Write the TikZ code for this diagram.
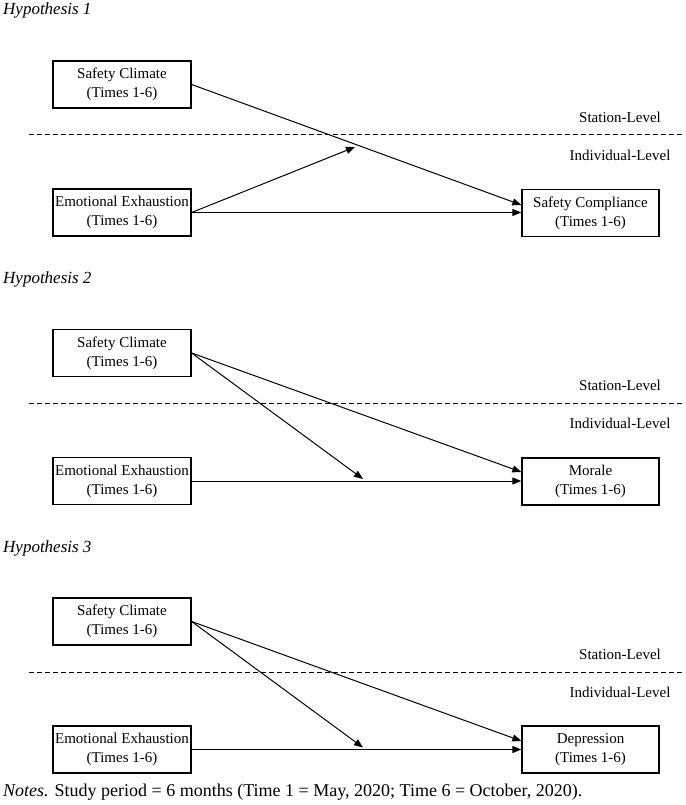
\documentclass[tikz,border=0pt]{standalone}
\usepackage{fontspec}
\setmainfont{Liberation Serif}
\usetikzlibrary{arrows.meta}
\begin{document}
\begin{tikzpicture}[x=1pt,y=-1pt,
  varbox/.style={draw,line width=1.3pt,minimum width=138pt,minimum height=47pt,inner sep=0pt,align=center,font=\fontsize{15}{19}\selectfont},
  lvl/.style={font=\fontsize{15}{18}\selectfont,inner sep=0pt},
  title/.style={font=\fontsize{17}{20}\selectfont\itshape,inner sep=0pt,anchor=base west},
  path/.style={line width=1pt,-{Triangle[length=9pt,width=7pt]}},
  divider/.style={line width=1pt,dash pattern=on 5pt off 3pt}]
\useasboundingbox (0,0) rectangle (685,805);

% ---------- Hypothesis 1 ----------
\node[title] (t1) at (3,15) {Hypothesis 1};
\node[varbox] (sc1) at (122,84.5) {Safety Climate\\(Times 1-6)};
\node[varbox] (ee1) at (122,212.5) {Emotional Exhaustion\\(Times 1-6)};
\node[varbox,minimum width=137pt] (out1) at (590.5,213) {Safety Compliance\\(Times 1-6)};
\coordinate (d1a) at (29,135);
\coordinate (d1b) at (685,135);
\draw[divider] (d1a) -- (d1b);
\node[lvl] (st1) at (620,117) {Station-Level};
\node[lvl] (in1) at (620,155) {Individual-Level};
\coordinate (o1a) at (out1.west |- 0,205);
\coordinate (m1) at (355,147);
\draw[path] (sc1.east) -- (o1a);
\draw[path] (ee1.east) -- (m1);
\draw[path] (ee1.east) -- (out1.west |- ee1.east);

% ---------- Hypothesis 2 ----------
\node[title] (t2) at (3,283.5) {Hypothesis 2};
\node[varbox] (sc2) at (122,353) {Safety Climate\\(Times 1-6)};
\node[varbox] (ee2) at (122,481) {Emotional Exhaustion\\(Times 1-6)};
\node[varbox,minimum width=137pt] (out2) at (590.5,481.5) {Morale\\(Times 1-6)};
\coordinate (d2a) at (29,403.5);
\coordinate (d2b) at (685,403.5);
\draw[divider] (d2a) -- (d2b);
\node[lvl] (st2) at (620,385.5) {Station-Level};
\node[lvl] (in2) at (620,423.5) {Individual-Level};
\coordinate (o2a) at (out2.west |- 0,472);
\coordinate (m2) at (363,479);
\draw[path] (sc2.east) -- (o2a);
\draw[path] (sc2.east) -- (m2);
\draw[path] (ee2.east) -- (out2.west |- ee2.east);

% ---------- Hypothesis 3 ----------
\node[title] (t3) at (3,552) {Hypothesis 3};
\node[varbox] (sc3) at (122,621.5) {Safety Climate\\(Times 1-6)};
\node[varbox] (ee3) at (122,749.5) {Emotional Exhaustion\\(Times 1-6)};
\node[varbox,minimum width=137pt] (out3) at (590.5,749.5) {Depression\\(Times 1-6)};
\coordinate (d3a) at (29,672);
\coordinate (d3b) at (685,672);
\draw[divider] (d3a) -- (d3b);
\node[lvl] (st3) at (620,654) {Station-Level};
\node[lvl] (in3) at (620,692) {Individual-Level};
\coordinate (o3a) at (out3.west |- 0,741);
\coordinate (m3) at (363,747.5);
\draw[path] (sc3.east) -- (o3a);
\draw[path] (sc3.east) -- (m3);
\draw[path] (ee3.east) -- (out3.west |- ee3.east);

% ---------- Notes ----------
\node[font=\fontsize{18}{21}\selectfont,inner sep=0pt,anchor=base west] (notes) at (3,796) {\textit{Notes.} Study period = 6 months (Time 1 = May, 2020; Time 6 = October, 2020).};
\end{tikzpicture}
\end{document}
